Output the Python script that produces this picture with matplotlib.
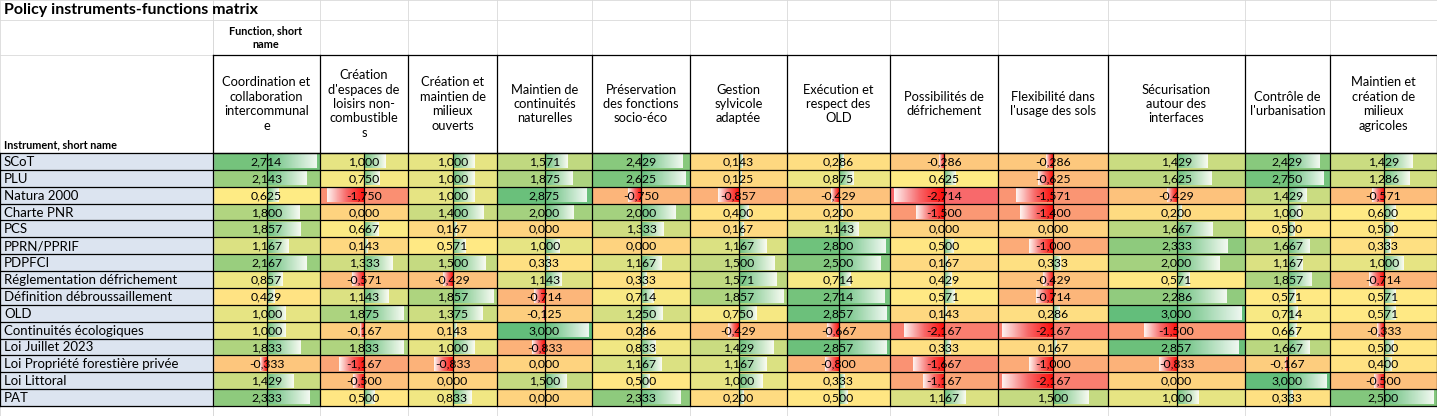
import numpy as np
import matplotlib.pyplot as plt
from matplotlib.colors import LinearSegmentedColormap, TwoSlopeNorm

functions = [
    "Coordination et\ncollaboration\nintercommunal\ne",
    "Création\nd'espaces de\nloisirs non-\ncombustible\ns",
    "Création et\nmaintien de\nmilieux\nouverts",
    "Maintien de\ncontinuités\nnaturelles",
    "Préservation\ndes fonctions\nsocio-éco",
    "Gestion\nsylvicole\nadaptée",
    "Exécution et\nrespect des\nOLD",
    "Possibilités de\ndéfrichement",
    "Flexibilité dans\nl'usage des sols",
    "Sécurisation\nautour des\ninterfaces",
    "Contrôle de\nl'urbanisation",
    "Maintien et\ncréation de\nmilieux\nagricoles",
]
instruments = [
    "SCoT", "PLU", "Natura 2000", "Charte PNR", "PCS", "PPRN/PPRIF", "PDPFCI",
    "Réglementation défrichement", "Définition débroussaillement", "OLD",
    "Continuités écologiques", "Loi Juillet 2023", "Loi Propriété forestière privée",
    "Loi Littoral", "PAT",
]
scores = np.array([
    [2.714, 1.000, 1.000, 1.571, 2.429, 0.143, 0.286, -0.286, -0.286, 1.429, 2.429, 1.429],
    [2.143, 0.750, 1.000, 1.875, 2.625, 0.125, 0.875, 0.625, -0.625, 1.625, 2.750, 1.286],
    [0.625, -1.750, 1.000, 2.875, -0.750, -0.857, -0.429, -2.714, -1.571, -0.429, 1.429, -0.571],
    [1.800, 0.000, 1.400, 2.000, 2.000, 0.400, 0.200, -1.500, -1.400, 0.200, 1.000, 0.600],
    [1.857, 0.667, 0.167, 0.000, 1.333, 0.167, 1.143, 0.000, 0.000, 1.667, 0.500, 0.500],
    [1.167, 0.143, 0.571, 1.000, 0.000, 1.167, 2.800, 0.500, -1.000, 2.333, 1.667, 0.333],
    [2.167, 1.333, 1.500, 0.333, 1.167, 1.500, 2.500, 0.167, 0.333, 2.000, 1.167, 1.000],
    [0.857, -0.571, -0.429, 1.143, 0.333, 1.571, 0.714, 0.429, -0.429, 0.571, 1.857, -0.714],
    [0.429, 1.143, 1.857, -0.714, 0.714, 1.857, 2.714, 0.571, -0.714, 2.286, 0.571, 0.571],
    [1.000, 1.875, 1.375, -0.125, 1.250, 0.750, 2.857, 0.143, 0.286, 3.000, 0.714, 0.571],
    [1.000, -0.167, 0.143, 3.000, 0.286, -0.429, -0.667, -2.167, -2.167, -1.500, 0.667, -0.333],
    [1.833, 1.833, 1.000, -0.833, 0.833, 1.429, 2.857, 0.333, 0.167, 2.857, 1.667, 0.500],
    [-0.333, -1.167, -0.833, 0.000, 1.167, 1.167, -0.800, -1.667, -1.000, -0.833, -0.167, 0.400],
    [1.429, -0.500, 0.000, 1.500, 0.500, 1.000, 0.333, -1.167, -2.167, 0.000, 3.000, -0.500],
    [2.333, 0.500, 0.833, 0.000, 2.333, 0.200, 0.500, 1.167, 1.500, 1.000, 0.333, 2.500],
])

# layout (pixels)
W, H = 1437, 416
col_edges = np.array([213, 320, 408, 497, 592, 690, 787, 890, 998, 1108, 1245, 1330, 1437])
row_edges = np.linspace(153, 406, len(instruments) + 1)
FONT = ["Lato", "DejaVu Sans"]

fig = plt.figure(figsize=(W / 100, H / 100), dpi=100)
ax = fig.add_axes([0, 0, 1, 1])
ax.set_xlim(0, W)
ax.set_ylim(H, 0)
ax.axis("off")

# light sheet grid
for x in [0, 213] + list(col_edges):
    ax.plot([x, x], [0, H], color="#D9D9D9", lw=0.6, zorder=0)
for y in [0, 20, 55, 153, 406]:
    ax.plot([0, W], [y, y], color="#D9D9D9", lw=0.6, zorder=0)

# colour scale cells
cmap = LinearSegmentedColormap.from_list("rg", ["#F8696B", "#FFEB84", "#63BE7B"])
norm = TwoSlopeNorm(vmin=scores.min(), vcenter=np.median(scores), vmax=scores.max())
ax.pcolormesh(col_edges, row_edges, scores, cmap=cmap, norm=norm, zorder=1)

# label column
ax.fill_between([0, 213], row_edges[0], row_edges[-1], color="#DCE4F0", zorder=1)

# data bars with axis at cell midpoint
green_bar = LinearSegmentedColormap.from_list("gb", ["#63BE7B", "#FFFFFF"])
red_bar = LinearSegmentedColormap.from_list("rb", ["#FFFFFF", "#F8696B", "#FF0000"])
grad = np.linspace(0, 1, 64)[None, :]
for j in range(len(functions)):
    x0, x1 = col_edges[j], col_edges[j + 1]
    mid = (x0 + x1) / 2
    half = (x1 - x0) / 2 - 4
    scale = np.abs(scores[:, j]).max()
    for i in range(len(instruments)):
        v = scores[i, j]
        y0, y1 = row_edges[i] + 1.5, row_edges[i + 1] - 1.5
        length = v / scale * half
        if v > 0:
            ax.imshow(grad, cmap=green_bar, extent=(mid, mid + length, y1, y0),
                      aspect="auto", zorder=2, alpha=0.9)
        elif v < 0:
            ax.imshow(grad, cmap=red_bar, extent=(mid + length, mid, y1, y0),
                      aspect="auto", zorder=2, alpha=0.9)
        ax.plot([mid, mid], [row_edges[i], row_edges[i + 1]], color="black", lw=0.9, zorder=3)
        ax.text((x0 + x1) / 2, (y0 + y1) / 2 + 0.5, f"{v:.3f}".replace(".", ","),
                ha="center", va="center", fontsize=8.8, family=FONT, zorder=4)

for i, name in enumerate(instruments):
    ax.text(4, (row_edges[i] + row_edges[i + 1]) / 2 + 0.5, name, ha="left", va="center",
            fontsize=9.5, family=FONT, zorder=4)

# borders
for y in row_edges:
    ax.plot([0, W], [y, y], color="black", lw=0.9, zorder=5)
for x in [0] + list(col_edges):
    ax.plot([x, x], [row_edges[0], row_edges[-1]], color="black", lw=0.9, zorder=5)
for x in col_edges:
    ax.plot([x, x], [55, 153], color="black", lw=0.9, zorder=5)
for y in [55, 153]:
    ax.plot([col_edges[0], W], [y, y], color="black", lw=0.9, zorder=5)

# header texts
for j, name in enumerate(functions):
    ax.text((col_edges[j] + col_edges[j + 1]) / 2, 104, name, ha="center", va="center",
            fontsize=9.3, family=FONT, linespacing=1.25, zorder=4)
ax.text(266, 38, "Function, short\nname", ha="center", va="center", fontsize=7.8,
        fontweight="bold", family=FONT, linespacing=1.3)
ax.text(4, 145, "Instrument, short name", ha="left", va="center", fontsize=7.8,
        fontweight="bold", family=FONT)
ax.text(4, 10, "Policy instruments-functions matrix", ha="left", va="center",
        fontsize=11.5, fontweight="bold", family=FONT)

fig.savefig("out.png", dpi=100)
